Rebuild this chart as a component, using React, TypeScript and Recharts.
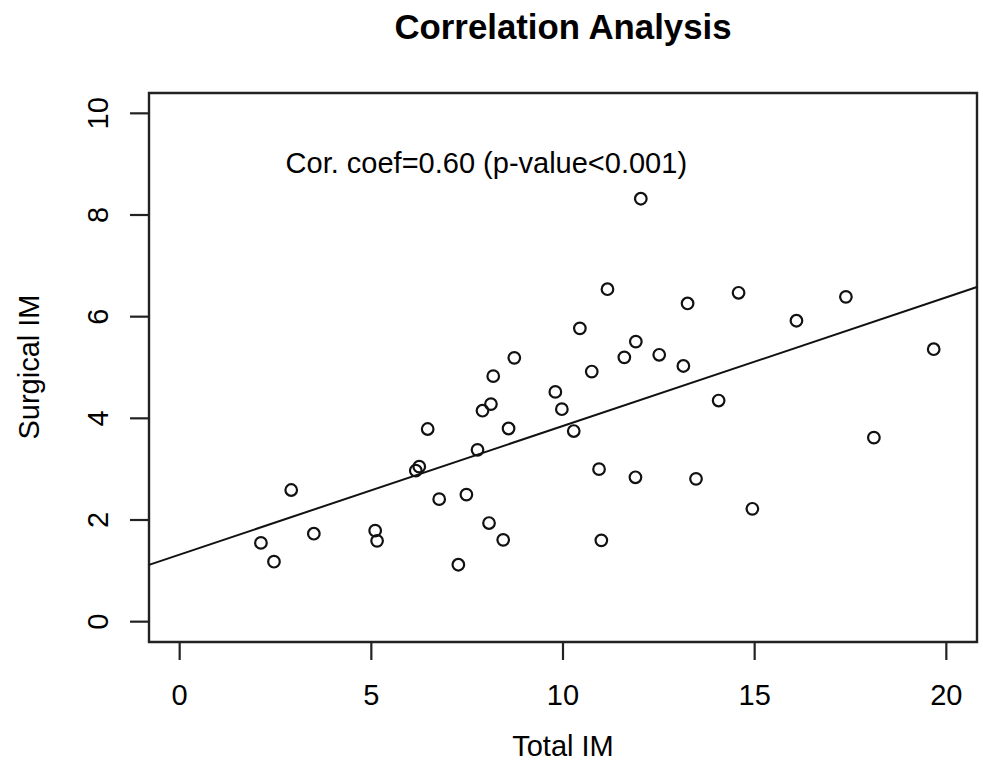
import React from "react"
import {
  ReferenceArea,
  ReferenceDot,
  ReferenceLine,
  Scatter,
  ScatterChart,
  XAxis,
  YAxis,
} from "recharts"

const FONT = '"Liberation Sans", Arial, sans-serif'

// Total IM (x) and Surgical IM (y)
const totalIM = [
  2.12, 2.46, 2.91, 3.5, 5.1, 5.15, 6.16, 6.25, 6.47, 6.77, 7.27, 7.48, 7.77,
  7.9, 8.07, 8.12, 8.18, 8.44, 8.58, 8.73, 9.8, 9.97, 10.28, 10.44, 10.75,
  10.94, 11.0, 11.16, 11.6, 11.89, 11.9, 12.03, 12.51, 13.14, 13.25, 13.47,
  14.06, 14.58, 14.94, 16.09, 17.38, 18.11, 19.67,
]
const surgicalIM = [
  1.55, 1.18, 2.59, 1.73, 1.79, 1.59, 2.97, 3.05, 3.79, 2.41, 1.12, 2.5, 3.38,
  4.15, 1.94, 4.28, 4.83, 1.61, 3.8, 5.19, 4.52, 4.18, 3.75, 5.77, 4.92, 3.0,
  1.6, 6.54, 5.2, 2.84, 5.51, 8.32, 5.25, 5.03, 6.26, 2.81, 4.35, 6.47, 2.22,
  5.92, 6.39, 3.62, 5.36,
]

const xTicks = [0, 5, 10, 15, 20]
const yTicks = [0, 2, 4, 6, 8, 10]

// fitted line y = a + b*x
const fitIntercept = 1.32
const fitSlope = 0.253

const xDomain = [-0.8, 20.8]
const yDomain = [-0.4, 10.4]

const data = totalIM.map((x, i) => ({ x, y: surgicalIM[i] }))

const XTick = (props: any) => {
  const { x, y, payload } = props
  return (
    <text x={x} y={y + 45} textAnchor="middle" fontSize={29} fontFamily={FONT} fill="#000">
      {payload.value}
    </text>
  )
}

const YTick = (props: any) => {
  const { x, y, payload } = props
  const bx = x - 22
  return (
    <text
      x={bx}
      y={y}
      transform={`rotate(-90, ${bx}, ${y})`}
      textAnchor="middle"
      fontSize={29}
      fontFamily={FONT}
      fill="#000"
    >
      {payload.value}
    </text>
  )
}

const OpenCircle = (props: any) => (
  <circle cx={props.cx} cy={props.cy} r={5.8} fill="none" stroke="#111" strokeWidth={2.2} />
)

export default function App() {
  return (
    <div style={{ position: "absolute", left: 0, top: 0, background: "#fff" }}>
      <ScatterChart
        width={983}
        height={778}
        margin={{ top: 93, right: 6, bottom: 0, left: 0 }}
      >
        <XAxis
          type="number"
          dataKey="x"
          domain={xDomain}
          ticks={xTicks}
          allowDataOverflow
          axisLine={false}
          tickSize={18}
          tickMargin={0}
          tickLine={{ stroke: "#222", strokeWidth: 2.2 }}
          tick={<XTick />}
          height={136}
        />
        <YAxis
          type="number"
          dataKey="y"
          domain={yDomain}
          ticks={yTicks}
          allowDataOverflow
          axisLine={false}
          tickSize={19}
          tickMargin={0}
          tickLine={{ stroke: "#222", strokeWidth: 2.2 }}
          tick={<YTick />}
          width={149}
        />
        <ReferenceArea
          x1={xDomain[0]}
          x2={xDomain[1]}
          y1={yDomain[0]}
          y2={yDomain[1]}
          fill="none"
          stroke="#222"
          strokeWidth={2.4}
          fillOpacity={0}
        />
        <ReferenceLine
          segment={[
            { x: xDomain[0], y: fitIntercept + fitSlope * xDomain[0] },
            { x: xDomain[1], y: fitIntercept + fitSlope * xDomain[1] },
          ]}
          stroke="#111"
          strokeWidth={2}
        />
        <Scatter data={data} shape={OpenCircle} isAnimationActive={false} />
        <ReferenceDot
          x={8}
          y={9}
          r={0}
          shape={(p: any) => (
            <text
              x={p.cx}
              y={p.cy + 9}
              textAnchor="middle"
              fontSize={29}
              fontFamily={FONT}
              fill="#000"
            >
              Cor. coef=0.60 (p-value&lt;0.001)
            </text>
          )}
        />
        <text
          x={563}
          y={39}
          textAnchor="middle"
          fontSize={34.8}
          fontWeight="bold"
          fontFamily={FONT}
          fill="#000"
        >
          Correlation Analysis
        </text>
        <text x={563} y={756} textAnchor="middle" fontSize={29} fontFamily={FONT} fill="#000">
          Total IM
        </text>
        <text
          x={39}
          y={367}
          transform="rotate(-90, 39, 367)"
          textAnchor="middle"
          fontSize={29}
          fontFamily={FONT}
          fill="#000"
        >
          Surgical IM
        </text>
      </ScatterChart>
    </div>
  )
}
